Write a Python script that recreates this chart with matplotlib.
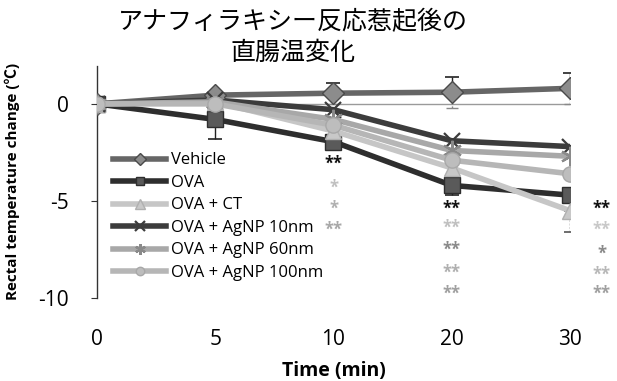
import numpy as np
import matplotlib.pyplot as plt

plt.rcParams["font.family"] = ["Open Sans", "Noto Sans CJK JP", "DejaVu Sans"]

time_labels = ["0", "5", "10", "20", "30"]
groups = ["Vehicle", "OVA", "OVA + CT", "OVA + AgNP 10nm", "OVA + AgNP 60nm", "OVA + AgNP 100nm"]

vehicle = [0.0, 0.45, 0.55, 0.6, 0.8]
ova = [0.0, -0.8, -1.95, -4.2, -4.7]
ova_ct = [0.0, 0.1, -1.4, -3.3, -5.5]
agnp_10 = [0.0, 0.2, -0.3, -1.9, -2.2]
agnp_60 = [0.0, 0.1, -0.8, -2.4, -2.7]
agnp_100 = [0.0, 0.0, -1.1, -2.9, -3.6]

vehicle_err = [0.0, 0.0, 0.55, 0.8, 0.8]
ova_err = [0.0, 1.0, 0.4, 0.5, 0.0]
ova_ct_err = [0.0, 0.0, 0.0, 0.0, 1.1]

# significance marks per time point: (y, text, colour)
sig_10 = [(-3.1, "**", "#111111"), (-4.3, "*", "#c0c0c0"), (-5.4, "*", "#b0b0b0"), (-6.5, "**", "#a8a8a8")]
sig_20 = [(-5.4, "**", "#111111"), (-6.4, "**", "#c0c0c0"), (-7.5, "**", "#8a8a8a"), (-8.7, "**", "#b0b0b0"), (-9.8, "**", "#a0a0a0")]
sig_30 = [(-5.4, "**", "#111111"), (-6.5, "**", "#c8c8c8"), (-7.7, "*", "#8a8a8a"), (-8.8, "**", "#b8b8b8"), (-9.8, "**", "#a0a0a0")]

x = np.arange(len(time_labels))

fig = plt.figure(figsize=(6.17, 3.81), dpi=100)
ax = fig.add_axes([0.1572, 0.2178, 0.7666, 0.6115])

ax.axhline(0, color="#9a9a9a", linewidth=1.0, zorder=1)

styles = [
    (vehicle, dict(color="#666666", marker="D", ms=11, mfc="#8c8c8c", mec="#4a4a4a")),
    (ova, dict(color="#2e2e2e", marker="s", ms=11, mfc="#5a5a5a", mec="#2e2e2e")),
    (ova_ct, dict(color="#c6c6c6", marker="^", ms=12, mfc="#c8c8c8", mec="#b0b0b0")),
    (agnp_10, dict(color="#3c3c3c", marker="x", ms=12, mew=1.6, mec="#3c3c3c")),
    (agnp_60, dict(color="#a8a8a8", marker=(6, 2, 0), ms=14, mew=1.6, mec="#8a8a8a")),
    (agnp_100, dict(color="#b6b6b6", marker="o", ms=11, mfc="#bdbdbd", mec="#a8a8a8")),
]

# error bars: vehicle upper solid / lower dashed, OVA and CT lower only
ax.errorbar(x, vehicle, yerr=[np.zeros(5), vehicle_err], fmt="none", ecolor="#222222",
            elinewidth=1.0, capsize=5, capthick=1.2, zorder=2)
eb = ax.errorbar(x, vehicle, yerr=[vehicle_err, np.zeros(5)], fmt="none", ecolor="#888888",
                 elinewidth=1.0, capsize=4, capthick=1.0, zorder=2)
eb[2][0].set_linestyle((0, (1.5, 1)))
ax.errorbar(x, ova, yerr=[ova_err, np.zeros(5)], fmt="none", ecolor="#222222",
            elinewidth=1.0, capsize=5, capthick=1.2, zorder=2)
eb = ax.errorbar(x, ova_ct, yerr=[ova_ct_err, np.zeros(5)], fmt="none", ecolor="#555555",
                 elinewidth=1.0, capsize=4, capthick=1.2, zorder=2)
eb[2][0].set_linestyle((0, (1.5, 1)))

for name, (vals, st) in zip(groups, styles):
    ax.plot(x, vals, label=name, linewidth=4.0, zorder=3, **st)

for xi, marks in [(2, sig_10), (3, sig_20), (4.27, sig_30)]:
    for yv, txt, col in marks:
        ax.text(xi, yv, txt, color=col, fontsize=12, fontweight="bold",
                ha="center", va="center", clip_on=False)

ax.set_xlim(0, 4)
ax.set_ylim(-10, 2)
ax.set_xticks(x)
ax.set_xticklabels(time_labels)
ax.set_yticks([0, -5, -10])
ax.set_yticklabels(["0", "-5", "-10"])
ax.tick_params(axis="x", length=0, pad=22, labelsize=15)
ax.tick_params(axis="y", length=4, width=0.8, pad=16, labelsize=15, color="#333333")

for side in ["top", "right", "bottom"]:
    ax.spines[side].set_visible(False)
ax.spines["left"].set_linestyle((0, (1, 1)))
ax.spines["left"].set_linewidth(1.0)
ax.spines["left"].set_color("#333333")

ax.set_xlabel("Time (min)", fontsize=14, fontweight="bold", labelpad=8)
ax.set_ylabel("Rectal temperature change (℃)", fontsize=11, fontweight="bold")
ax.yaxis.set_label_coords(-0.163, 0.5)

ax.legend(loc="upper left", bbox_to_anchor=(0.034, 0.625), frameon=False, fontsize=12,
          handlelength=3.2, handletextpad=0.3, labelspacing=0.39, markerscale=0.55,
          borderpad=0, borderaxespad=0)

fig.text(0.475, 0.975, "アナフィラキシー反応惹起後の\n直腸温変化", ha="center", va="top",
         fontsize=18, family="Noto Sans CJK JP", linespacing=1.2)

fig.savefig("out.png", dpi=100)
